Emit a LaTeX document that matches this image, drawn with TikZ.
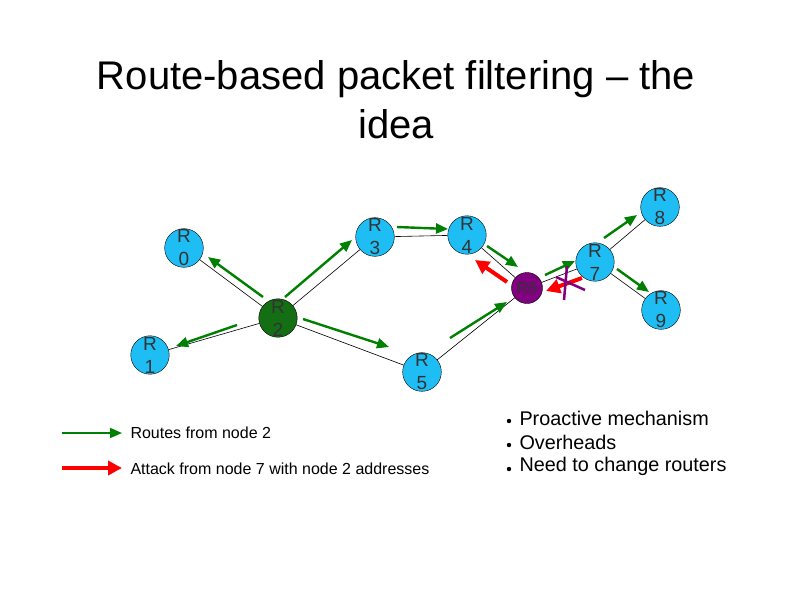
\documentclass[tikz,border=0pt]{standalone}
\usepackage{fontspec}
\setmainfont{Liberation Sans}
\usetikzlibrary{arrows.meta}

\definecolor{routerblue}{RGB}{30,190,245}
\definecolor{routergreen}{RGB}{20,110,20}
\definecolor{routerpurple}{RGB}{128,0,128}

\tikzset{
  router/.style={circle,draw=black,fill=routerblue,minimum size=31pt,inner sep=0pt,
    font=\fontsize{19}{23}\selectfont,align=center,text=black!80},
  link/.style={black,line width=0.6pt},
  route/.style={-{Triangle[length=12pt,width=10pt]},green!50!black,line width=2.4pt},
  attack/.style={-{Triangle[length=14pt,width=14pt]},red,line width=4pt}
}

\begin{document}
\begin{tikzpicture}[x=1pt,y=-1pt]

\useasboundingbox (0,0) rectangle (794,595);

%Title
\node[font=\fontsize{40}{49}\selectfont,align=center] (title) at (396,100)
  {Route-based packet filtering -- the\\idea};

%Routers
\node[router] (r0) at (184,248) {R\\0};
\node[router] (r1) at (150,355) {R\\1};
\node[router,fill=routergreen] (r2) at (278,318) {R\\2};
\node[router] (r3) at (375,237) {R\\3};
\node[router] (r4) at (467,235) {R\\4};
\node[router] (r5) at (422,372) {R\\5};
\node[router,fill=routerpurple,font=\fontsize{16}{18}\selectfont] (r6) at (527,288) {R6};
\node[router] (r7) at (595,262) {R\\7};
\node[router] (r8) at (660,207) {R\\8};
\node[router] (r9) at (661,310) {R\\9};

%Links
\foreach \a/\b in {r2/r0,r2/r1,r2/r3,r2/r5,r3/r4,r4/r6,r5/r6,r6/r7,r7/r8,r7/r9}
  \draw[link] (\a) -- (\b);

%Routes from node 2
\coordinate (g1s) at (263,297); \coordinate (g1e) at (208,257);
\coordinate (g2s) at (285,297); \coordinate (g2e) at (352,240);
\coordinate (g3s) at (397,227); \coordinate (g3e) at (448,229);
\coordinate (g4s) at (487,246); \coordinate (g4e) at (518,267);
\coordinate (g5s) at (450,338); \coordinate (g5e) at (507,302);
\coordinate (g6s) at (545,275); \coordinate (g6e) at (575,261);
\coordinate (g7s) at (604,238); \coordinate (g7e) at (637,215);
\coordinate (g8s) at (617,269); \coordinate (g8e) at (649,292);
\coordinate (g9s) at (237,325); \coordinate (g9e) at (176,346);
\coordinate (g10s) at (303,319); \coordinate (g10e) at (389,347);
\foreach \i in {1,...,10}
  \draw[route] (g\i s) -- (g\i e);

%Attack
\coordinate (a1s) at (507,282); \coordinate (a1e) at (475,260);
\coordinate (a2s) at (582,278); \coordinate (a2e) at (546,291);
\draw[attack] (a1s) -- (a1e);
\draw[attack] (a2s) -- (a2e);
\draw[routerpurple,line width=2.5pt] (567,266) -- (564,300);
\draw[routerpurple,line width=2.5pt] (556,277) -- (585,290);

%Legend
\coordinate (lg1) at (62,433); \coordinate (lg2) at (122,433);
\coordinate (la1) at (62,468); \coordinate (la2) at (122,468);
\draw[route,line width=1.8pt] (lg1) -- (lg2);
\draw[attack,line width=3.5pt] (la1) -- (la2);
\node[anchor=west,font=\fontsize{16}{18}\selectfont] (lgtext) at (127,433) {Routes from node 2};
\node[anchor=west,font=\fontsize{16}{18}\selectfont] (latext) at (127,469) {Attack from node 7 with node 2 addresses};

%Bullets
\foreach \y/\t in {418/Proactive mechanism,442/Overheads,466/Need to change routers}{
  \fill (509,\y+3) circle (2.2pt);
  \node[anchor=west,font=\fontsize{19.8}{22}\selectfont] at (516,\y) {\t};
}

\end{tikzpicture}
\end{document}
